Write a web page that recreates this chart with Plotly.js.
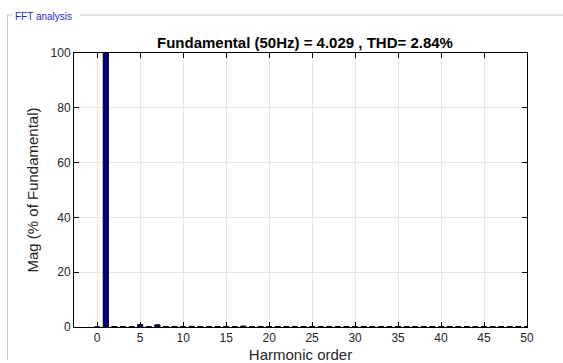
<!DOCTYPE html>
<html>
<head>
<meta charset="utf-8">
<script src="https://cdn.plot.ly/plotly-3.0.1.min.js"></script>
<style>html,body{margin:0;padding:0;background:#fff;}#chart{width:563px;height:363px;}</style>
</head>
<body>
<div id="chart"></div>
<script>
// Harmonic orders 0..50
var harmonicOrder = [0,1,2,3,4,5,6,7,8,9,10,11,12,13,14,15,16,17,18,19,20,21,22,23,24,25,26,27,28,29,30,31,32,33,34,35,36,37,38,39,40,41,42,43,44,45,46,47,48,49,50];
// Magnitude (% of fundamental)
var magnitude = [0.05,100,0.15,0.2,0.15,0.9,0.15,0.8,0.15,0.2,0.15,0.25,0.15,0.2,0.15,0.2,0.15,0.35,0.15,0.2,0.15,0.2,0.15,0.2,0.15,0.2,0.15,0.2,0.15,0.2,0.15,0.2,0.15,0.2,0.15,0.2,0.15,0.2,0.15,0.2,0.15,0.2,0.15,0.2,0.15,0.2,0.15,0.2,0.15,0.2,0.15];
var xTicks = [0,5,10,15,20,25,30,35,40,45,50];
var yTicks = [0,20,40,60,80,100];
var titleText = "Fundamental (50Hz) = 4.029 , THD= 2.84%";
var panelLabel = "FFT analysis";

var L = 74, R = 527, T = 53, B = 327;
function px(x){ return (x - L) / (R - L); }
function py(y){ return (B - y) / (B - T); }

var trace = {
  type: 'bar',
  x: harmonicOrder,
  y: magnitude,
  width: 0.6,
  marker: {color: 'rgb(0,0,140)', line: {color: '#000', width: 1}},
  hoverinfo: 'x+y'
};

var axisFont = {family: 'Arial, Liberation Sans, sans-serif', size: 12, color: '#262626'};
var labelFont = {family: 'Arial, Liberation Sans, sans-serif', size: 15, color: '#262626'};
var layout = {
  width: 563, height: 363,
  margin: {l: L, r: 563 - R, t: T, b: 363 - B, pad: 0},
  paper_bgcolor: '#fff', plot_bgcolor: '#fff',
  showlegend: false,
  bargap: 0,
  xaxis: {
    range: [-2.7, 50], tickvals: xTicks, ticktext: xTicks.map(String),
    showgrid: true, gridcolor: '#e6e6e6', gridwidth: 1,
    zeroline: false, showline: true, linecolor: '#000', linewidth: 1, mirror: 'allticks',
    ticks: 'inside', ticklen: 5, tickcolor: '#000',
    tickfont: axisFont,
    title: {text: 'Harmonic order', font: labelFont, standoff: 13}
  },
  yaxis: {
    range: [0, 100], tickvals: yTicks, ticktext: yTicks.map(String),
    showgrid: true, gridcolor: '#e6e6e6', gridwidth: 1,
    zeroline: false, showline: true, linecolor: '#000', linewidth: 1, mirror: 'allticks',
    ticks: 'inside', ticklen: 5, tickcolor: '#000',
    tickfont: axisFont,
    title: {text: 'Mag (% of Fundamental)', font: labelFont, standoff: 8}
  },
  annotations: [
    {xref: 'paper', yref: 'paper', x: px(305), y: py(43), xanchor: 'center', yanchor: 'middle',
     text: '<b>' + titleText + '</b>', showarrow: false,
     font: {family: 'Arial, Liberation Sans, sans-serif', size: 15, color: '#000'}},
    {xref: 'paper', yref: 'paper', x: px(13), y: py(16), xanchor: 'left', yanchor: 'middle',
     text: panelLabel, showarrow: false, bgcolor: '#fff',
     font: {family: 'Arial, Liberation Sans, sans-serif', size: 10, color: 'rgb(40,40,200)'}}
  ],
  shapes: [
    {type: 'line', xref: 'paper', yref: 'paper', x0: px(7.5), x1: px(12), y0: py(15), y1: py(15), line: {color: '#c8c8c8', width: 1}},
    {type: 'line', xref: 'paper', yref: 'paper', x0: px(80), x1: px(563), y0: py(15), y1: py(15), line: {color: '#c8c8c8', width: 1}},
    {type: 'line', xref: 'paper', yref: 'paper', x0: px(7.5), x1: px(7.5), y0: py(15), y1: py(360), line: {color: '#c8c8c8', width: 1}}
  ]
};

Plotly.newPlot('chart', [trace], layout, {displayModeBar: false, staticPlot: true});
</script>
</body>
</html>
